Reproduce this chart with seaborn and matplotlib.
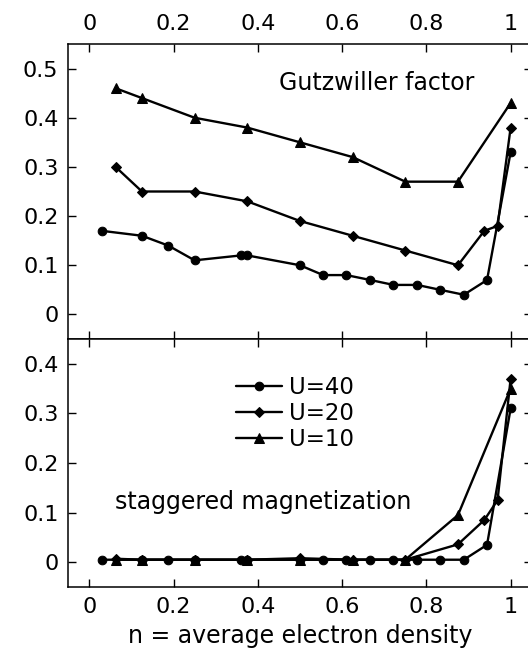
import matplotlib
matplotlib.use("Agg")
import matplotlib.pyplot as plt
import seaborn as sns
import pandas as pd

sns.set_theme(style="white")
plt.rcParams['font.family'] = ['DejaVu Sans']

# ---- data ----
n_u40 = [0.03, 0.125, 0.1875, 0.25, 0.36, 0.375, 0.5, 0.555, 0.61, 0.667,
         0.722, 0.778, 0.833, 0.889, 0.944, 1.0]
g_u40 = [0.17, 0.16, 0.14, 0.11, 0.12, 0.12, 0.10, 0.08, 0.08, 0.07,
         0.06, 0.06, 0.05, 0.04, 0.07, 0.33]
m_u40 = [0.005, 0.005, 0.005, 0.005, 0.005, 0.005, 0.005, 0.005, 0.005, 0.005,
         0.005, 0.005, 0.005, 0.005, 0.035, 0.31]

n_u20 = [0.0625, 0.125, 0.25, 0.375, 0.5, 0.625, 0.75, 0.875, 0.9375, 0.969, 1.0]
g_u20 = [0.30, 0.25, 0.25, 0.23, 0.19, 0.16, 0.13, 0.10, 0.17, 0.18, 0.38]
m_u20 = [0.007, 0.005, 0.005, 0.005, 0.008, 0.005, 0.005, 0.036, 0.085, 0.125, 0.37]

n_u10 = [0.0625, 0.125, 0.25, 0.375, 0.5, 0.625, 0.75, 0.875, 1.0]
g_u10 = [0.46, 0.44, 0.40, 0.38, 0.35, 0.32, 0.27, 0.27, 0.43]
m_u10 = [0.005, 0.005, 0.005, 0.005, 0.005, 0.005, 0.005, 0.095, 0.35]

labels = ["U=40", "U=20", "U=10"]
x_ticks = [0, 0.2, 0.4, 0.6, 0.8, 1.0]
x_ticklabels = ["0", "0.2", "0.4", "0.6", "0.8", "1"]
top_yticks = [0, 0.1, 0.2, 0.3, 0.4, 0.5]
top_yticklabels = ["0", "0.1", "0.2", "0.3", "0.4", "0.5"]
bot_yticks = [0, 0.1, 0.2, 0.3, 0.4]
bot_yticklabels = ["0", "0.1", "0.2", "0.3", "0.4"]

series = [
    (labels[0], n_u40, g_u40, m_u40, "o", 6.2),
    (labels[1], n_u20, g_u20, m_u20, "D", 5.6),
    (labels[2], n_u10, g_u10, m_u10, "^", 7.4),
]

fig = plt.figure(figsize=(5.28, 6.54), dpi=100)
W, H = 528.0, 654.0
left = 68.2 / W
width = 463.5 / W
ax_top = fig.add_axes([left, 1 - 339 / H, width, 295 / H])
ax_bot = fig.add_axes([left, 1 - 587 / H, width, 248 / H])

lw = 1.7
tick_fs = 16
for ax in (ax_top, ax_bot):
    ax.set_facecolor("white")
    for s in ax.spines.values():
        s.set_color("black")
        s.set_linewidth(1.1)
    ax.set_xlim(-0.05, 1.05)
    ax.set_xticks(x_ticks)
    ax.tick_params(axis="both", direction="in", length=6, width=1.0,
                   colors="black", labelsize=tick_fs, pad=7,
                   top=True, bottom=True, left=True, right=True)
    ax.grid(False)

handles = []
for lab, n, g, m, mk, ms in series:
    df_t = pd.DataFrame({"n": n, "v": g})
    df_b = pd.DataFrame({"n": n, "v": m})
    sns.lineplot(data=df_t, x="n", y="v", ax=ax_top, color="black", marker=mk,
                 markersize=ms, linewidth=lw, markeredgecolor="black",
                 estimator=None, sort=False)
    sns.lineplot(data=df_b, x="n", y="v", ax=ax_bot, color="black", marker=mk,
                 markersize=ms, linewidth=lw, markeredgecolor="black",
                 estimator=None, sort=False)
    handles.append(ax_bot.lines[-1])

# top panel
ax_top.set_ylim(-0.05, 0.55)
ax_top.set_yticks(top_yticks)
ax_top.set_yticklabels(top_yticklabels)
ax_top.set_xticklabels(x_ticklabels)
ax_top.tick_params(axis="x", labeltop=True, labelbottom=False)
ax_top.set_xlabel("")
ax_top.set_ylabel("")
ax_top.text(0.683, 0.47, "Gutzwiller factor", ha="center", va="center",
            fontsize=17, color="black")

# bottom panel
ax_bot.set_ylim(-0.05, 0.45)
ax_bot.set_yticks(bot_yticks)
ax_bot.set_yticklabels(bot_yticklabels)
ax_bot.set_xticklabels(x_ticklabels)
ax_bot.tick_params(axis="x", labeltop=False, labelbottom=True)
ax_bot.set_ylabel("")
ax_bot.set_xlabel("n = average electron density", fontsize=17, labelpad=5,
                  color="black")
ax_bot.text(0.412, 0.121, "staggered magnetization", ha="center", va="center",
            fontsize=17, color="black")

leg = ax_bot.legend(handles, labels, loc="upper left",
                    bbox_to_anchor=(0.362, 0.85), frameon=False, fontsize=16.5,
                    handlelength=2.0, handletextpad=0.3, labelspacing=0.12,
                    borderpad=0, borderaxespad=0)
for t in leg.get_texts():
    t.set_color("black")

fig.savefig("out.png", dpi=100, facecolor="white")
